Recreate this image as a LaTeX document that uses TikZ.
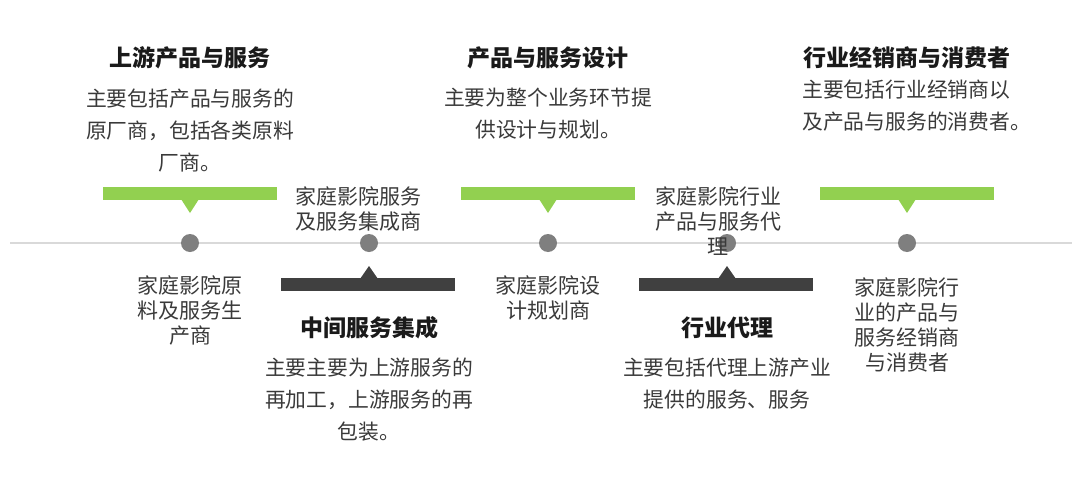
\documentclass[tikz,border=0pt]{standalone}
\usepackage{fontspec}
\setmainfont{Noto Sans CJK SC}
\definecolor{barg}{HTML}{92D050}
\definecolor{bard}{HTML}{404040}
\definecolor{dotc}{HTML}{7F7F7F}
\definecolor{linec}{HTML}{D9D9D9}
\definecolor{txt}{HTML}{3A3A3A}
\definecolor{ttl}{HTML}{1A1A1A}
\begin{document}
\begin{tikzpicture}[x=1pt,y=-1pt,
  ttlnode/.style={inner sep=0pt,text=ttl,font=\fontsize{23}{27}\selectfont\bfseries},
  descnode/.style={inner sep=0pt,text=txt,align=center,font=\fontsize{20.8}{32}\selectfont},
  lblnode/.style={inner sep=0pt,text=txt,align=center,font=\fontsize{21}{25}\selectfont},
  dotnode/.style={circle,fill=dotc,minimum size=18pt,inner sep=0pt},
  gbar/.style={fill=barg},
  dbar/.style={fill=bard}]
\useasboundingbox (0,0) rectangle (1080,490);
\fill[white] (0,0) rectangle (1080,490);
% timeline
\coordinate (L) at (10,243);
\coordinate (R) at (1072,243);
\draw[linec,line width=2pt] (L) -- (R);
\foreach \n/\x in {d1/190,d2/369,d3/548,d4/727,d5/907}{
  \node[dotnode] (\n) at (\x,243) {};
}
% green bars with down pointers
\foreach \x in {190,548,907}{
  \fill[gbar] (\x-87,187) rectangle (\x+87,200);
  \fill[gbar] (\x-9,199) -- (\x+9,199) -- (\x,213) -- cycle;
}
% dark bars with up pointers
\foreach \x in {369,727}{
  \fill[dbar] (\x-88,278) rectangle (\x+86,291);
  \fill[dbar] (\x-9,279) -- (\x+9,279) -- (\x,266) -- cycle;
}
% top titles and descriptions
\node[ttlnode] (t1) at (190,58) {上游产品与服务};
\node[descnode] (p1) at (190,131) {主要包括产品与服务的\\原厂商，包括各类原料\\厂商。};
\node[ttlnode] (t3) at (548,58) {产品与服务设计};
\node[descnode] (p3) at (548,114) {主要为整个业务环节提\\供设计与规划。};
\node[ttlnode] (t5) at (907,58) {行业经销商与消费者};
\node[descnode,align=left,anchor=west] (p5) at (802,106) {主要包括行业经销商以\\及产品与服务的消费者。};
% bottom titles and descriptions
\node[ttlnode] (t2) at (369,328) {中间服务集成};
\node[descnode] (p2) at (369,400) {主要主要为上游服务的\\再加工，上游服务的再\\包装。};
\node[ttlnode] (t4) at (727,328) {行业代理};
\node[descnode] (p4) at (727,384) {主要包括代理上游产业\\提供的服务、服务};
% labels near line
\node[lblnode] (l2) at (358,208.5) {家庭影院服务\\及服务集成商};
\node[lblnode] (l4) at (718,221) {家庭影院行业\\产品与服务代\\理};
\node[lblnode] (l1) at (190,310) {家庭影院原\\料及服务生\\产商};
\node[lblnode] (l3) at (548,297.5) {家庭影院设\\计规划商};
\node[lblnode] (l5) at (907,324.5) {家庭影院行\\业的产品与\\服务经销商\\与消费者};
\end{tikzpicture}
\end{document}
